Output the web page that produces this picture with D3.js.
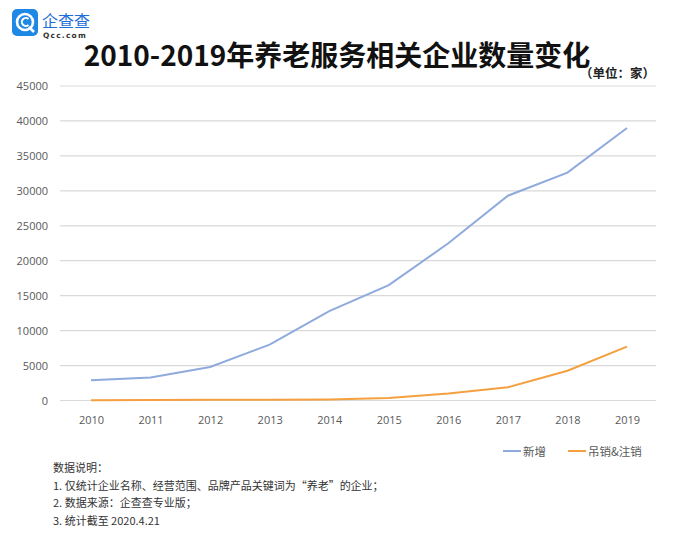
<!DOCTYPE html>
<html><head><meta charset="utf-8">
<script src="https://cdn.jsdelivr.net/npm/d3@7/dist/d3.min.js"></script>
<style>body{margin:0;background:#fff;}svg{display:block;font-family:"Noto Sans CJK SC","Noto Sans",sans-serif;}</style>
</head><body><svg id="c" width="673" height="537"></svg>
<script>
const years = ["2010","2011","2012","2013","2014","2015","2016","2017","2018","2019"];
const newCompanies = [2900, 3300, 4800, 8000, 12800, 16500, 22500, 29300, 32600, 39000];
const revokedCancelled = [50, 60, 100, 120, 150, 350, 1000, 1900, 4250, 7700];
const yTicks = [0,5000,10000,15000,20000,25000,30000,35000,40000,45000];
const seriesNames = ["新增","吊销&注销"];
const notes = ["数据说明：","1. 仅统计企业名称、经营范围、品牌产品关键词为“养老”的企业；","2. 数据来源：企查查专业版；","3. 统计截至 2020.4.21"];

const svg = d3.select("#c");
const L=60, R=656, T=86, B=400.5;
const x = d3.scalePoint().domain(years).range([91,627]);
const y = d3.scaleLinear().domain([0,45000]).range([B,T]);

// logo
const g0 = svg.append("g");
g0.append("rect").attr("x",12).attr("y",9).attr("width",26).attr("height",27).attr("rx",5).attr("fill","#1e88e5");
g0.append("circle").attr("cx",25).attr("cy",22).attr("r",8).attr("fill","none").attr("stroke","#fff").attr("stroke-width",2.6);
g0.append("path").attr("d","M28.5,19 A4,4 0 1 0 28.5,25").attr("fill","none").attr("stroke","#fff").attr("stroke-width",2);
g0.append("line").attr("x1",29).attr("y1",27).attr("x2",34).attr("y2",32).attr("stroke","#fff").attr("stroke-width",2.6);
g0.append("text").attr("x",42).attr("y",27).attr("font-size",16).attr("fill","#1e6fd9").text("企查查");
g0.append("text").attr("x",43).attr("y",38).attr("font-size",7.5).attr("font-weight","bold").attr("letter-spacing",1.2).attr("fill","#333").attr("font-family","DejaVu Sans").text("Qcc.com");

// title
svg.append("text").attr("x",337).attr("y",66).attr("text-anchor","middle").attr("font-size",28).attr("font-weight","bold").attr("fill","#111").text("2010-2019年养老服务相关企业数量变化");
svg.append("text").attr("x",655).attr("y",78).attr("text-anchor","end").attr("font-size",12.5).attr("font-weight","bold").attr("fill","#222").text("（单位：家）");

// grid
svg.append("g").selectAll("line").data(yTicks).join("line")
  .attr("x1",L).attr("x2",R).attr("y1",d=>y(d)).attr("y2",d=>y(d))
  .attr("stroke","#d9d9d9").attr("stroke-width",1.2);

// y axis labels
const yAxis = d3.axisLeft(y).tickValues(yTicks).tickSize(0).tickPadding(0).tickFormat(d3.format("d"));
svg.append("g").attr("transform","translate(48,0)").call(yAxis)
  .call(g=>g.select(".domain").remove())
  .call(g=>g.selectAll("text").attr("font-size",11).attr("fill","#595959").attr("font-family","Open Sans, sans-serif"));

// x axis labels
const xAxis = d3.axisBottom(x).tickSize(0).tickPadding(0);
svg.append("g").attr("transform","translate(0,416)").call(xAxis)
  .call(g=>g.select(".domain").remove())
  .call(g=>g.selectAll("text").attr("font-size",11).attr("fill","#595959").attr("font-family","Open Sans, sans-serif"));

// lines
const line = d3.line().x((d,i)=>x(years[i])).y(d=>y(d));
svg.append("path").datum(newCompanies).attr("d",line).attr("fill","none").attr("stroke","#8faadc").attr("stroke-width",2);
svg.append("path").datum(revokedCancelled).attr("d",line).attr("fill","none").attr("stroke","#f4a040").attr("stroke-width",2);

// legend
const colors = ["#8faadc","#f4a040"];
const lx = [503, 568];
seriesNames.forEach((n,i)=>{
  svg.append("line").attr("x1",lx[i]).attr("x2",lx[i]+18).attr("y1",451).attr("y2",451).attr("stroke",colors[i]).attr("stroke-width",2);
  svg.append("text").attr("x",lx[i]+20).attr("y",455.5).attr("font-size",11.5).attr("fill","#595959").text(n);
});

// notes
svg.append("g").selectAll("text").data(notes).join("text")
  .attr("x",53).attr("y",(d,i)=>472+i*17.5).attr("font-size",11).attr("fill","#333").text(d=>d);
</script></body></html>
